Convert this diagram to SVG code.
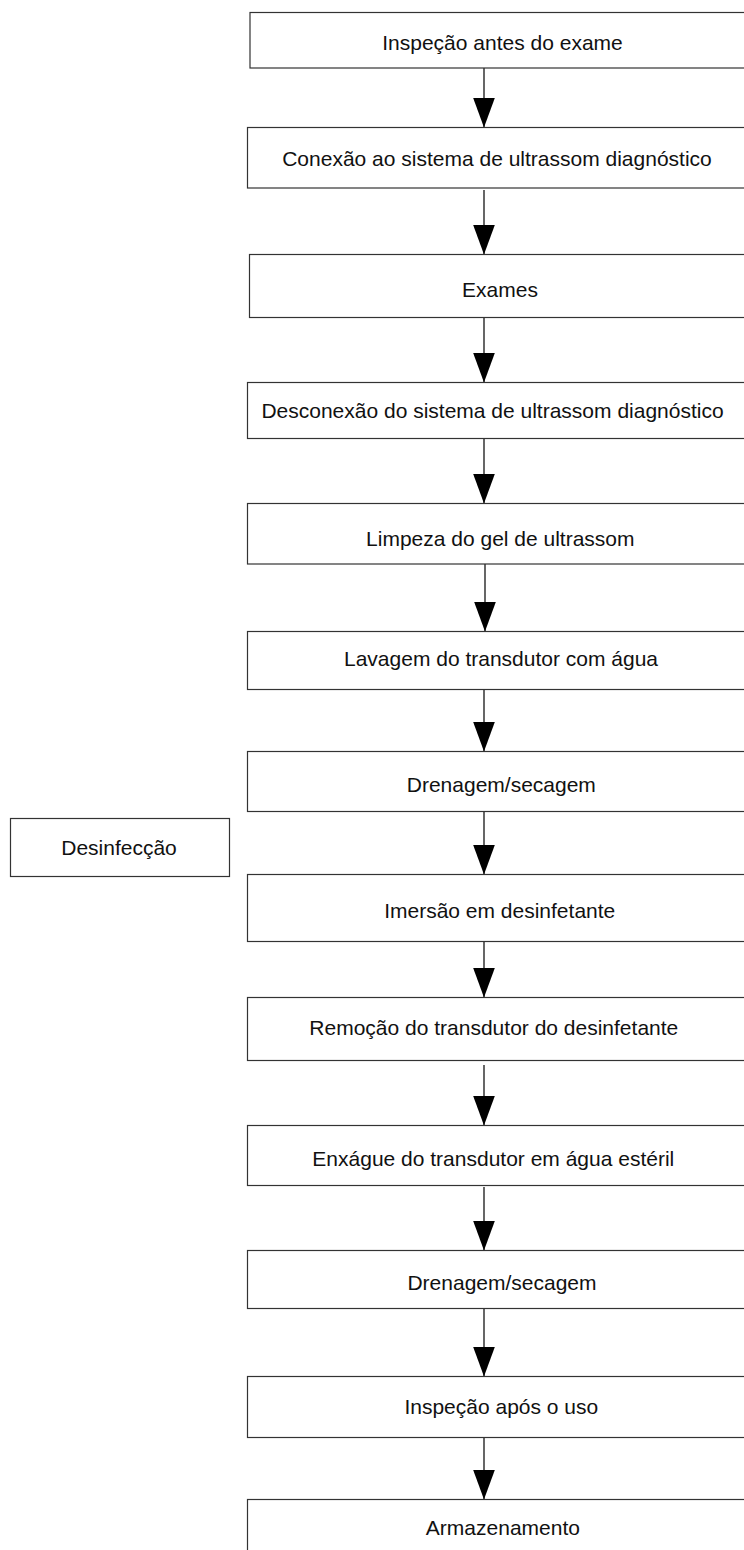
<svg xmlns="http://www.w3.org/2000/svg" width="744" height="1550" viewBox="0 0 744 1550">
<style>
.box{fill:#fff;stroke:#333;stroke-width:1.2}
.lbl{font-family:"Liberation Sans",Arial,sans-serif;font-size:21px;fill:#111;text-anchor:middle}
.conn{stroke:#000;stroke-width:1.2;fill:none}
</style>
<defs>
<marker id="ah" viewBox="0 0 30 22" markerWidth="30" markerHeight="22" refX="30" refY="11" orient="auto" markerUnits="userSpaceOnUse">
<path d="M0,0 L30,11 L0,22 z" fill="#000"/>
</marker>
</defs>
<rect width="744" height="1550" fill="#fff"/>
<g id="connectors">
<line class="conn" x1="484" y1="68" x2="484" y2="127.5" marker-end="url(#ah)"/>
<line class="conn" x1="484" y1="190" x2="484" y2="254.5" marker-end="url(#ah)"/>
<line class="conn" x1="484" y1="317.5" x2="484" y2="382.5" marker-end="url(#ah)"/>
<line class="conn" x1="484" y1="438.5" x2="484" y2="503.5" marker-end="url(#ah)"/>
<line class="conn" x1="485" y1="564" x2="485" y2="631.5" marker-end="url(#ah)"/>
<line class="conn" x1="484" y1="689.5" x2="484" y2="751.5" marker-end="url(#ah)"/>
<line class="conn" x1="484" y1="811.5" x2="484" y2="874.5" marker-end="url(#ah)"/>
<line class="conn" x1="484" y1="941.5" x2="484" y2="997.5" marker-end="url(#ah)"/>
<line class="conn" x1="484" y1="1065" x2="484" y2="1125.5" marker-end="url(#ah)"/>
<line class="conn" x1="484" y1="1187" x2="484" y2="1250.5" marker-end="url(#ah)"/>
<line class="conn" x1="484" y1="1308.5" x2="484" y2="1376.5" marker-end="url(#ah)"/>
<line class="conn" x1="484" y1="1437.5" x2="484" y2="1499.5" marker-end="url(#ah)"/>
</g>
<g id="n1"><rect class="box" x="250" y="12.5" width="510" height="55.5"/><text class="lbl" x="502.5" y="50">Inspeção antes do exame</text></g>
<g id="n2"><rect class="box" x="247.5" y="127.5" width="512" height="60.5"/><text class="lbl" x="497" y="165.5">Conexão ao sistema de ultrassom diagnóstico</text></g>
<g id="n3"><rect class="box" x="249.5" y="254.5" width="510" height="63"/><text class="lbl" x="500" y="296.5">Exames</text></g>
<g id="n4"><rect class="box" x="247.5" y="382.5" width="512" height="56"/><text class="lbl" x="492.5" y="417.5">Desconexão do sistema de ultrassom diagnóstico</text></g>
<g id="n5"><rect class="box" x="247.5" y="503.5" width="512" height="60.5"/><text class="lbl" x="500.3" y="545.5">Limpeza do gel de ultrassom</text></g>
<g id="n6"><rect class="box" x="247.5" y="631.5" width="512" height="58"/><text class="lbl" x="501" y="665.5">Lavagem do transdutor com água</text></g>
<g id="n7"><rect class="box" x="247.5" y="751.5" width="512" height="60"/><text class="lbl" x="501.3" y="791.5">Drenagem/secagem</text></g>
<g id="n8"><rect class="box" x="247.5" y="874.5" width="512" height="67"/><text class="lbl" x="499.7" y="917.5">Imersão em desinfetante</text></g>
<g id="n9"><rect class="box" x="247.5" y="997.5" width="512" height="63"/><text class="lbl" x="493.8" y="1035">Remoção do transdutor do desinfetante</text></g>
<g id="n10"><rect class="box" x="247.5" y="1125.5" width="512" height="60"/><text class="lbl" x="493.3" y="1165.5">Enxágue do transdutor em água estéril</text></g>
<g id="n11"><rect class="box" x="247.5" y="1250.5" width="512" height="58"/><text class="lbl" x="502" y="1289.5">Drenagem/secagem</text></g>
<g id="n12"><rect class="box" x="247.5" y="1376.5" width="512" height="61"/><text class="lbl" x="501.3" y="1413.5">Inspeção após o uso</text></g>
<g id="n13"><rect class="box" x="247.5" y="1499.5" width="512" height="70"/><text class="lbl" x="502.9" y="1535">Armazenamento</text></g>
<g id="n14"><rect class="box" x="10.5" y="818.5" width="219" height="58"/><text class="lbl" x="119" y="855">Desinfecção</text></g>
</svg>
